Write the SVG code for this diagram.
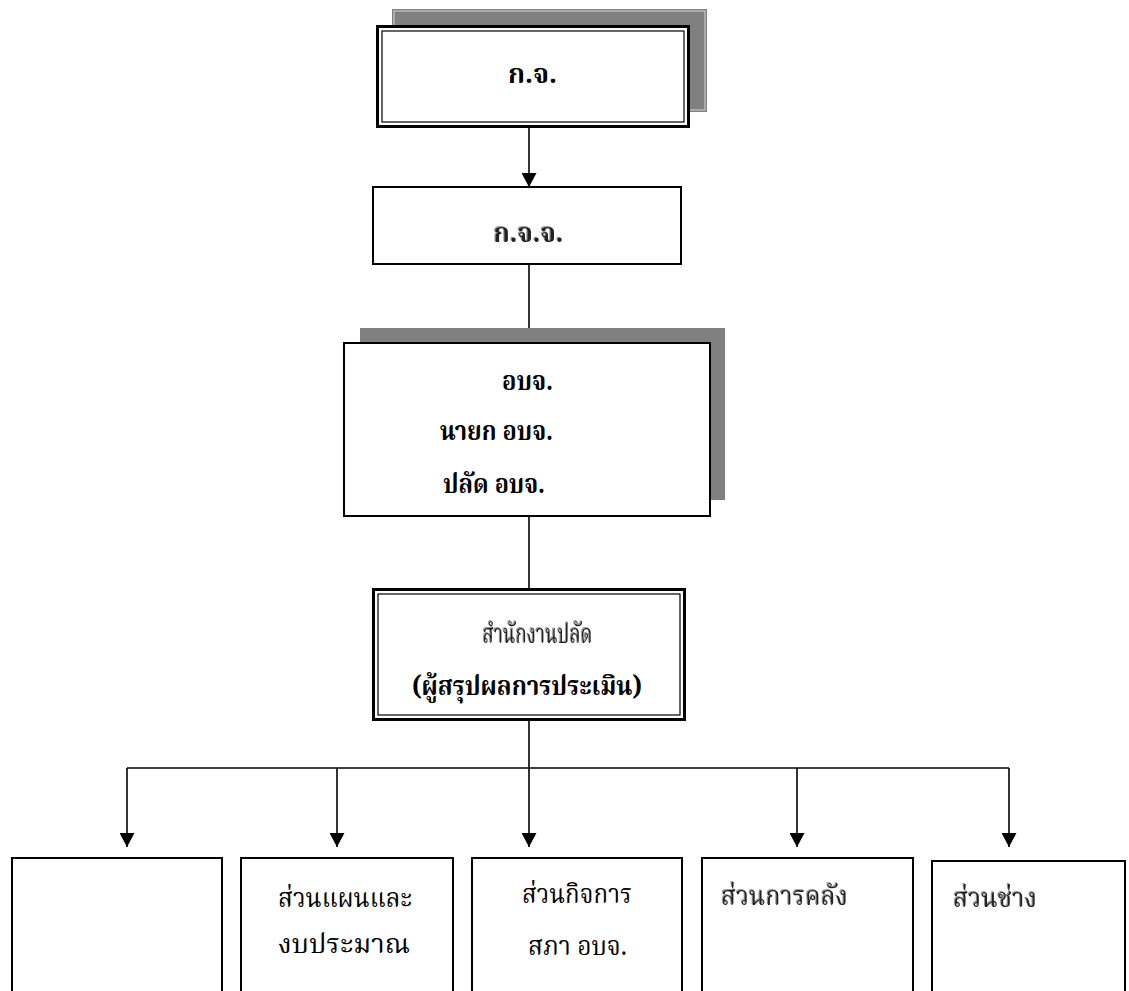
<svg xmlns="http://www.w3.org/2000/svg" width="1129" height="991" viewBox="0 0 1129 991">
<defs>
<style>
.bg{fill:#ffffff}
.box{fill:#ffffff;stroke:#000;stroke-width:2}
.outer{fill:#ffffff;stroke:#000;stroke-width:3}
.inner{fill:none;stroke:#000;stroke-width:1.2}
.shadow{fill:#808080}
.shadowline{fill:none;stroke:#c8c8c8;stroke-width:1.2}
.ln{fill:none;stroke:#000;stroke-width:1.6}
.t{font-family:"Noto Serif Thai","Noto Sans Thai","Tlwg Typo","Garuda","Loma","DejaVu Sans",sans-serif;font-size:27px;fill:#000}
.b{font-weight:bold}
.ghost{fill:#222;filter:url(#emboss)}
</style>
<filter id="emboss" x="-10%" y="-20%" width="120%" height="140%">
<feOffset in="SourceAlpha" dx="-1.5" dy="-1" result="off"/>
<feFlood flood-color="#9a9a9a"/>
<feComposite in2="off" operator="in" result="sh"/>
<feMerge><feMergeNode in="sh"/><feMergeNode in="SourceGraphic"/></feMerge>
</filter>
<marker id="arr" markerWidth="14" markerHeight="15" refX="14" refY="7.5" orient="auto" markerUnits="userSpaceOnUse">
<path d="M0,0 L14,7.5 L0,15 Z" fill="#000"/>
</marker>
</defs>
<rect class="bg" x="0" y="0" width="1129" height="991"/>

<g id="connectors">
<line class="ln" x1="529" y1="128" x2="529" y2="187" marker-end="url(#arr)"/>
<line class="ln" x1="529" y1="264" x2="529" y2="343"/>
<line class="ln" x1="529" y1="516" x2="529" y2="588"/>
<line class="ln" x1="529" y1="721" x2="529" y2="768"/>
<line class="ln" x1="127" y1="768" x2="1009" y2="768"/>
<line class="ln" x1="127" y1="768" x2="127" y2="847" marker-end="url(#arr)"/>
<line class="ln" x1="337" y1="768" x2="337" y2="847" marker-end="url(#arr)"/>
<line class="ln" x1="529" y1="768" x2="529" y2="847" marker-end="url(#arr)"/>
<line class="ln" x1="797" y1="768" x2="797" y2="847" marker-end="url(#arr)"/>
<line class="ln" x1="1009" y1="768" x2="1009" y2="847" marker-end="url(#arr)"/>
</g>

<g id="node-kj">
<rect class="shadow" x="392" y="9" width="315" height="103"/>
<rect class="shadowline" x="394" y="11" width="311" height="99"/>
<rect class="outer" x="377.5" y="26.5" width="311" height="100"/>
<rect class="inner" x="382" y="31" width="302" height="91"/>
<text class="t b" x="508" y="83" textLength="49" lengthAdjust="spacingAndGlyphs">ก.จ.</text>
</g>

<g id="node-kjj">
<rect class="box" x="373" y="187" width="308" height="77"/>
<text class="t b ghost" x="493.5" y="242" textLength="70" lengthAdjust="spacingAndGlyphs">ก.จ.จ.</text>
</g>

<g id="node-obj">
<rect class="shadow" x="360" y="328" width="365" height="172"/>
<rect class="box" x="344" y="343" width="366" height="173"/>
<text class="t b" x="502" y="390" textLength="51" lengthAdjust="spacingAndGlyphs">อบจ.</text>
<text class="t b" x="440" y="440" textLength="113" lengthAdjust="spacingAndGlyphs">นายก อบจ.</text>
<text class="t b" x="443" y="493" textLength="102" lengthAdjust="spacingAndGlyphs">ปลัด อบจ.</text>
</g>

<g id="node-office">
<rect class="outer" x="373.5" y="589.5" width="311" height="130"/>
<rect class="inner" x="378" y="594" width="302" height="121"/>
<text class="t ghost" x="482.5" y="643" textLength="110" lengthAdjust="spacingAndGlyphs">สำนักงานปลัด</text>
<text class="t b" x="412" y="695" textLength="230" lengthAdjust="spacingAndGlyphs">(ผู้สรุปผลการประเมิน)</text>
</g>

<g id="node-1">
<rect class="box" x="12" y="858" width="210" height="150"/>
</g>

<g id="node-2">
<rect class="box" x="241" y="858" width="212" height="150"/>
<text class="t" x="278" y="907" textLength="134" lengthAdjust="spacingAndGlyphs">ส่วนแผนและ</text>
<text class="t" x="278" y="953" textLength="132" lengthAdjust="spacingAndGlyphs">งบประมาณ</text>
</g>

<g id="node-3">
<rect class="box" x="472" y="858" width="210" height="150"/>
<text class="t" x="522" y="903" textLength="110" lengthAdjust="spacingAndGlyphs">ส่วนกิจการ</text>
<text class="t" x="528" y="955" textLength="99" lengthAdjust="spacingAndGlyphs">สภา อบจ.</text>
</g>

<g id="node-4">
<rect class="box" x="702" y="858" width="211" height="150"/>
<text class="t ghost" x="721" y="905" textLength="127" lengthAdjust="spacingAndGlyphs">ส่วนการคลัง</text>
</g>

<g id="node-5">
<rect class="box" x="932" y="861" width="193" height="150"/>
<text class="t ghost" x="953" y="907" textLength="84" lengthAdjust="spacingAndGlyphs">ส่วนช่าง</text>
</g>
</svg>
